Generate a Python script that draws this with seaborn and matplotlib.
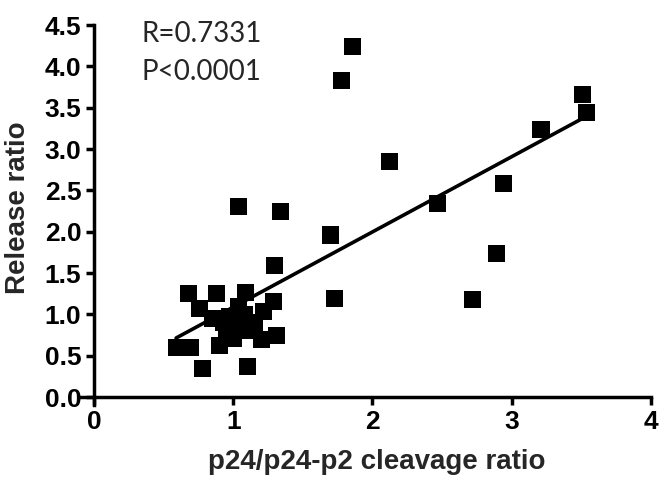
import matplotlib

matplotlib.use("Agg")

import matplotlib.pyplot as plt
import numpy as np
import pandas as pd
import seaborn as sns

# cleavage ratio (x) vs release ratio (y)
cleavage = [0.59, 0.69, 0.68, 0.88, 1.09, 1.29, 0.76, 1.22, 0.78, 1.10,
            1.31, 1.20, 1.00, 0.90, 0.85, 0.93, 0.97, 1.03, 1.08, 1.15,
            0.95, 1.12, 1.04, 1.04, 1.34, 1.30, 1.70, 1.73, 1.78, 1.86,
            2.12, 2.47, 2.72, 2.89, 2.94, 3.21, 3.51, 3.54]
release = [0.60, 0.60, 1.25, 1.25, 1.27, 1.15, 1.07, 1.03, 0.35, 0.37,
           0.75, 0.69, 0.71, 0.62, 0.95, 0.90, 0.98, 0.85, 1.00, 0.90,
           0.80, 0.80, 1.10, 2.31, 2.25, 1.59, 1.96, 1.19, 3.83, 4.24,
           2.85, 2.34, 1.18, 1.74, 2.58, 3.24, 3.66, 3.44]

x_ticks = [0, 1, 2, 3, 4]
y_ticks = [0.0, 0.5, 1.0, 1.5, 2.0, 2.5, 3.0, 3.5, 4.0, 4.5]

df = pd.DataFrame({"cleavage": cleavage, "release": release})

sns.set_style("ticks")
plt.rcParams["font.family"] = ["Liberation Sans", "DejaVu Sans"]

fig = plt.figure(figsize=(6.59, 4.84), dpi=100)
ax = fig.add_axes([0.1214, 0.1626, 0.8665, 0.7857])

sns.regplot(
    data=df, x="cleavage", y="release", ax=ax, ci=None,
    marker="s",
    scatter_kws={"s": 150, "color": "black", "edgecolor": "none", "alpha": 1},
    line_kws={"color": "black", "linewidth": 2.6},
)

ax.set_xlim(-0.1, 4.0)
ax.set_ylim(-0.1, 4.5)
ax.spines["left"].set_position(("data", 0))
ax.spines["bottom"].set_position(("data", 0))
for side in ("top", "right"):
    ax.spines[side].set_visible(False)
for side in ("left", "bottom"):
    ax.spines[side].set_linewidth(2.5)
    ax.spines[side].set_color("black")

ax.set_xticks(x_ticks)
ax.set_yticks(y_ticks)
ax.set_yticklabels([f"{v:.1f}" for v in y_ticks])
ax.tick_params(axis="both", direction="out", length=6, width=2.5,
               labelsize=19, colors="black", pad=3)
for lab in ax.get_xticklabels() + ax.get_yticklabels():
    lab.set_fontweight("bold")

ax.set_xlabel("p24/p24-p2 cleavage ratio", fontsize=20, fontweight="bold")
ax.set_ylabel("Release ratio", fontsize=20, fontweight="bold")
ax.xaxis.set_label_coords(0.52, -0.115)
ax.yaxis.set_label_coords(-0.085, 0.52)

fig.text(142 / 659, 1 - 42 / 484, "R=0.7331", fontsize=20, family="Lato", va="baseline")
fig.text(142 / 659, 1 - 80 / 484, "P<0.0001", fontsize=20, family="Lato", va="baseline")

fig.savefig("out.png", dpi=100)
